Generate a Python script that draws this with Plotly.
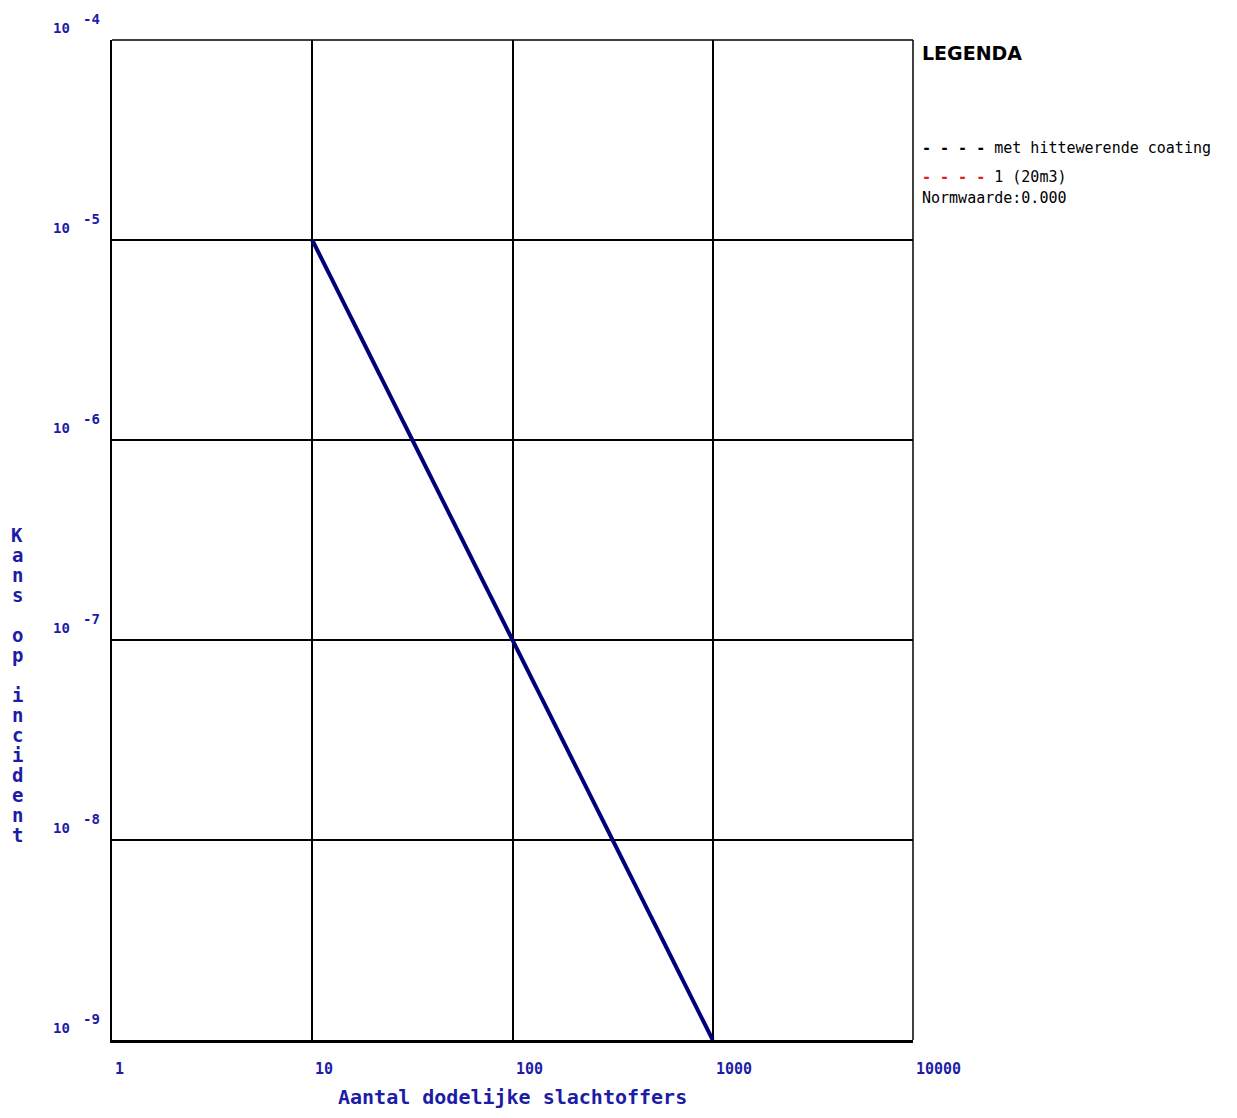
import math
import plotly.graph_objects as go

# Data
slachtoffers = [10, 100, 1000]
kans = [1e-5, 1e-7, 1e-9]
x_ticks = [1, 10, 100, 1000, 10000]
x_tick_labels = ["1", "10", "100", "1000", "10000"]
y_exps = [-4, -5, -6, -7, -8, -9]
legend_items = ["met hittewerende coating", "1 (20m3)"]
normwaarde = "0.000"
x_title = "Aantal dodelijke slachtoffers"
y_title = "Kans op incident"

BLUE = "#1c1ca6"
MONO = "DejaVu Sans Mono"

fig = go.Figure()
fig.add_trace(go.Scatter(x=slachtoffers, y=kans, mode="lines",
                         line=dict(color="#000078", width=4), showlegend=False,
                         hoverinfo="skip"))

annotations = []
# y tick labels
for e in y_exps:
    annotations.append(dict(x=0, xref="paper", y=e, yref="y", text="<b>10</b>",
                            showarrow=False, xanchor="left", yanchor="middle",
                            xshift=-61, yshift=12, font=dict(family=MONO, size=14, color=BLUE)))
    annotations.append(dict(x=0, xref="paper", y=e, yref="y", text="<b>%d</b>" % e,
                            showarrow=False, xanchor="left", yanchor="middle",
                            xshift=-31, yshift=21, font=dict(family=MONO, size=14, color=BLUE)))
# x tick labels
for v, t in zip(x_ticks, x_tick_labels):
    annotations.append(dict(x=math.log10(v), xref="x", y=0, yref="paper", text="<b>%s</b>" % t,
                            showarrow=False, xanchor="left", yanchor="middle",
                            xshift=1, yshift=-29, font=dict(family=MONO, size=15, color=BLUE)))
# axis titles
annotations.append(dict(x=0.5, xref="paper", y=0, yref="paper",
                        text="<b>%s</b>" % x_title, showarrow=False,
                        xanchor="center", yanchor="middle", yshift=-57,
                        font=dict(family=MONO, size=20, color=BLUE)))
for i, c in enumerate(y_title):
    if c == " ":
        continue
    annotations.append(dict(x=0, xref="paper", y=1, yref="paper",
                            text="<b>%s</b>" % c, showarrow=False,
                            xanchor="center", yanchor="middle", xshift=-95,
                            yshift=-(495 + 20 * i),
                            font=dict(family=MONO, size=19, color=BLUE)))
# legend
annotations.append(dict(x=1, xref="paper", y=1, yref="paper", text="<b>LEGENDA</b>",
                        showarrow=False, xanchor="left", yanchor="middle", xshift=7, yshift=-13,
                        font=dict(family="DejaVu Sans", size=19, color="black")))
annotations.append(dict(x=1, xref="paper", y=1, yref="paper",
                        text="<b>- - - -</b> " + legend_items[0],
                        showarrow=False, xanchor="left", yanchor="middle", xshift=7, yshift=-108,
                        font=dict(family=MONO, size=15, color="black")))
annotations.append(dict(x=1, xref="paper", y=1, yref="paper",
                        text="<b><span style='color:#e02020'>- - - -</span></b> " + legend_items[1],
                        showarrow=False, xanchor="left", yanchor="middle", xshift=7, yshift=-137,
                        font=dict(family=MONO, size=15, color="black")))
annotations.append(dict(x=1, xref="paper", y=1, yref="paper",
                        text="Normwaarde:" + normwaarde,
                        showarrow=False, xanchor="left", yanchor="middle", xshift=7, yshift=-158,
                        font=dict(family=MONO, size=15, color="black")))

shapes = [
    dict(type="line", xref="paper", yref="paper", x0=0, x1=1, y0=1, y1=1,
         line=dict(color="black", width=1.5)),
    dict(type="line", xref="paper", yref="paper", x0=1, x1=1, y0=0, y1=1,
         line=dict(color="black", width=1.5)),
]

fig.update_layout(
    width=1221, height=1102,
    margin=dict(l=104, r=316, t=32, b=70),
    plot_bgcolor="white", paper_bgcolor="white",
    showlegend=False,
    annotations=annotations,
    shapes=shapes,
    xaxis=dict(type="log", range=[0, 4], tickvals=x_ticks, showticklabels=False,
               showgrid=True, gridcolor="black", gridwidth=1.5, zeroline=False,
               showline=True, linecolor="black", linewidth=3, ticks=""),
    yaxis=dict(type="log", range=[-9, -4], tickvals=[10.0 ** e for e in y_exps],
               showticklabels=False, showgrid=True, gridcolor="black", gridwidth=1.5,
               zeroline=False, showline=True, linecolor="black", linewidth=2, ticks=""),
)

fig.write_html("out.html")
